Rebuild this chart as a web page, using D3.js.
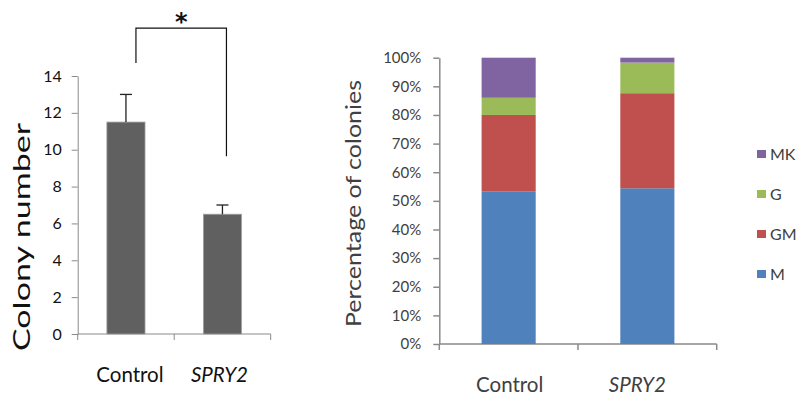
<!doctype html>
<html>
<head>
    <meta charset="utf-8" />
    <title></title>
    <style>
        body { margin: 0; background: #fff; }
        svg text { font-family: Lato, "Open Sans", sans-serif; }
    </style>
</head>
<body>
    <script src="https://cdn.jsdelivr.net/npm/d3@7"></script>
    <script>
        // left panel: colony counts
        var groups = ["Control", "SPRY2"];
        var counts = [11.5, 6.5];
        var countErr = [1.5, 0.5];
        var countTicks = [0, 2, 4, 6, 8, 10, 12, 14];

        // right panel: colony type percentages (stacked)
        var types = ["M", "GM", "G", "MK"];
        var typeColors = ["#4F81BD", "#C0504D", "#9BBB59", "#8064A2"];
        var pctM = [0.532, 0.544];
        var pctGM = [0.268, 0.332];
        var pctG = [0.060, 0.107];
        var pctMK = [0.140, 0.017];
        var pctTicks = [0, 0.1, 0.2, 0.3, 0.4, 0.5, 0.6, 0.7, 0.8, 0.9, 1];

        var w = 802, h = 398;
        var svg = d3.select("body").append("svg").attr("width", w).attr("height", h);

        var axisGrey = "#8a8a8a";

        // ---------- left chart ----------
        var xL = d3.scaleBand().domain(groups).range([77.7, 270.7]).padding(0);
        var yL = d3.scaleLinear().domain([0, 14]).range([334, 76]);
        var barWL = xL.bandwidth() * 0.395;

        var gL = svg.append("g");

        var yAxisL = gL.append("g").attr("transform", "translate(" + xL.range()[0] + ",0)")
            .call(d3.axisLeft(yL).tickValues(countTicks).tickSize(6).tickSizeOuter(0).tickPadding(10));
        yAxisL.select(".domain").attr("stroke", axisGrey);
        yAxisL.selectAll(".tick line").attr("stroke", axisGrey);
        yAxisL.selectAll("text").attr("font-size", 16).attr("fill", "#111");

        // x axis with ticks at band boundaries
        var bounds = groups.map(function(d) { return xL(d); }).concat([xL.range()[1]]);
        gL.append("line").attr("x1", xL.range()[0]).attr("x2", xL.range()[1])
            .attr("y1", yL(0)).attr("y2", yL(0)).attr("stroke", axisGrey);
        gL.selectAll(".xt").data(bounds).enter().append("line")
            .attr("x1", function(d) { return d; }).attr("x2", function(d) { return d; })
            .attr("y1", yL(0)).attr("y2", yL(0) + 6).attr("stroke", axisGrey);

        gL.selectAll(".bar").data(counts).enter().append("rect")
            .attr("x", function(d, i) { return xL(groups[i]) + xL.bandwidth() / 2 - barWL / 2; })
            .attr("y", function(d) { return yL(d); })
            .attr("width", barWL)
            .attr("height", function(d) { return yL(0) - yL(d); })
            .attr("fill", "#606060").attr("stroke", "#a0a0a0").attr("stroke-width", 0.8);

        // error bars
        counts.forEach(function(v, i) {
            var cx = xL(groups[i]) + xL.bandwidth() / 2;
            gL.append("line").attr("x1", cx).attr("x2", cx)
                .attr("y1", yL(v)).attr("y2", yL(v + countErr[i]))
                .attr("stroke", "#222").attr("stroke-width", 1.3);
            gL.append("line").attr("x1", cx - 6).attr("x2", cx + 6)
                .attr("y1", yL(v + countErr[i])).attr("y2", yL(v + countErr[i]))
                .attr("stroke", "#222").attr("stroke-width", 1.3);
        });

        // significance bracket
        var bx1 = xL("Control") + xL.bandwidth() / 2 + 10;
        var bx2 = xL("SPRY2") + xL.bandwidth() / 2 + 4;
        gL.append("path")
            .attr("d", "M" + bx1 + "," + yL(14.7) + "V" + yL(16.6) + "H" + bx2 + "V" + yL(9.65))
            .attr("fill", "none").attr("stroke", "#111").attr("stroke-width", 1.2);
        gL.append("text").attr("x", (bx1 + bx2) / 2).attr("y", 30)
            .attr("text-anchor", "middle").attr("font-size", 24).attr("font-weight", "bold")
            .style("font-family", "'DejaVu Sans', sans-serif")
            .attr("fill", "#111").text("*");

        gL.append("text").attr("transform", "translate(30," + 237 + ") rotate(-90)")
            .attr("text-anchor", "middle").attr("font-size", 23)
            .attr("textLength", 228).attr("lengthAdjust", "spacingAndGlyphs")
            .attr("fill", "#111").text("Colony number");

        gL.selectAll(".xl").data(groups).enter().append("text")
            .attr("x", function(d, i) { return xL(d) + xL.bandwidth() / 2 + (i === 0 ? 4 : -3); })
            .attr("y", 382)
            .attr("text-anchor", "middle").attr("font-size", 20.5)
            .attr("font-style", function(d, i) { return i === 1 ? "italic" : "normal"; })
            .attr("fill", "#111").text(function(d) { return d; });

        // ---------- right chart ----------
        var xR = d3.scaleBand().domain(groups).range([439.3, 716.7]).padding(0);
        var yR = d3.scaleLinear().domain([0, 1]).range([344, 57.7]);
        var barWR = xR.bandwidth() * 0.39;
        var gR = svg.append("g");

        var yAxisR = gR.append("g").attr("transform", "translate(" + xR.range()[0] + ",0)")
            .call(d3.axisLeft(yR).tickValues(pctTicks).tickFormat(d3.format(".0%"))
                .tickSize(6).tickSizeOuter(0).tickPadding(12));
        yAxisR.select(".domain").attr("stroke", axisGrey).attr("stroke-width", 1.5);
        yAxisR.selectAll(".tick line").attr("stroke", axisGrey).attr("stroke-width", 1.5);
        yAxisR.selectAll("text").attr("font-size", 15).attr("fill", "#404040");

        var boundsR = groups.map(function(d) { return xR(d); }).concat([xR.range()[1]]);
        gR.append("line").attr("x1", xR.range()[0]).attr("x2", xR.range()[1])
            .attr("y1", yR(0)).attr("y2", yR(0)).attr("stroke", axisGrey).attr("stroke-width", 1.5);
        gR.selectAll(".xt").data(boundsR).enter().append("line")
            .attr("x1", function(d) { return d; }).attr("x2", function(d) { return d; })
            .attr("y1", yR(0)).attr("y2", yR(0) + 6).attr("stroke", axisGrey).attr("stroke-width", 1.5);

        var table = groups.map(function(g, i) {
            return { group: g, M: pctM[i], GM: pctGM[i], G: pctG[i], MK: pctMK[i] };
        });
        var stacked = d3.stack().keys(types)(table);

        gR.selectAll(".layer").data(stacked).enter().append("g")
            .attr("fill", function(d, i) { return typeColors[i]; })
            .selectAll("rect").data(function(d) { return d; }).enter().append("rect")
            .attr("x", function(d) { return xR(d.data.group) + xR.bandwidth() / 2 - barWR / 2; })
            .attr("y", function(d) { return yR(d[1]); })
            .attr("width", barWR)
            .attr("height", function(d) { return yR(d[0]) - yR(d[1]); });

        gR.append("text").attr("transform", "translate(361," + 203.5 + ") rotate(-90)")
            .attr("text-anchor", "middle").attr("font-size", 21)
            .attr("textLength", 247).attr("lengthAdjust", "spacingAndGlyphs")
            .attr("fill", "#404040").text("Percentage of colonies");

        gR.selectAll(".xl").data(groups).enter().append("text")
            .attr("x", function(d, i) { return xR(d) + xR.bandwidth() / 2 + (i === 0 ? 1 : -10); })
            .attr("y", 392)
            .attr("text-anchor", "middle").attr("font-size", 20.5)
            .attr("font-style", function(d, i) { return i === 1 ? "italic" : "normal"; })
            .attr("fill", "#404040").text(function(d) { return d; });

        // legend, top to bottom MK, G, GM, M
        var legendOrder = types.slice().reverse();
        var leg = gR.selectAll(".leg").data(legendOrder).enter().append("g")
            .attr("transform", function(d, i) { return "translate(757," + (154 + i * 40) + ")"; });
        leg.append("rect").attr("x", 0).attr("y", -4).attr("width", 9).attr("height", 8)
            .attr("fill", function(d) { return typeColors[types.indexOf(d)]; });
        leg.append("text").attr("x", 13).attr("y", 0).attr("dy", "0.35em")
            .attr("font-size", 16).attr("fill", "#404040").text(function(d) { return d; });
    </script>
</body>
</html>
